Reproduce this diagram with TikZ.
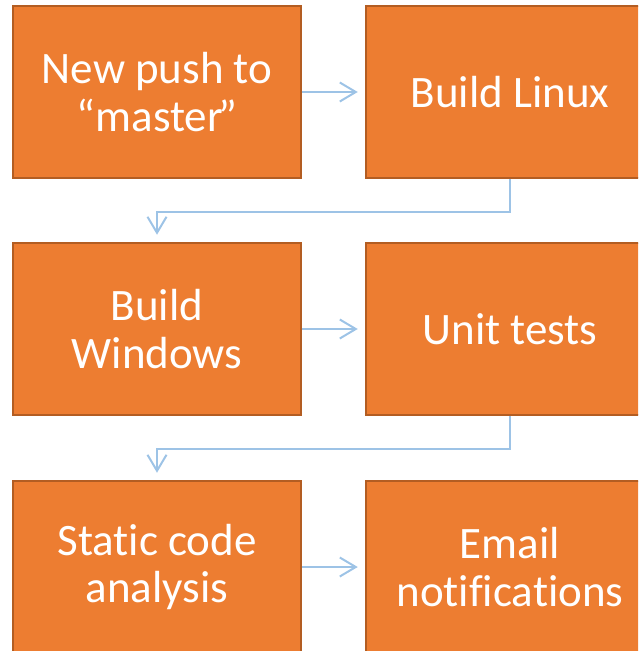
\documentclass[tikz,border=0pt]{standalone}
\usepackage{fontspec}
\setmainfont[Ligatures=NoCommon]{Carlito}
\usetikzlibrary{arrows.meta}
\definecolor{stepfill}{HTML}{ED7D31}
\definecolor{stepline}{HTML}{B35D22}
\definecolor{flowblue}{HTML}{9DC3E6}
\tikzset{
	stepbox/.style={draw=stepline, line width=0.03cm, fill=stepfill, text=white,
		minimum width=5.76cm, minimum height=3.44cm, inner sep=0pt, align=center,
		font=\fontsize{25.6}{27.3}\selectfont},
	flow/.style={draw=flowblue, line width=0.04cm,
		-{Straight Barb[length=0.32cm, width=0.38cm]}, shorten >=0.15cm}
}

\begin{document}
\begin{tikzpicture}
		%%%%% START %%%%%
		
		\useasboundingbox (0, 0) rectangle (12.76, -13.02);
		\clip (0, 0) rectangle (12.76, -13.02);
		
		\node[stepbox] (push) at (3.14, -1.84) {New push to\\“master\kern-0.1em”};
		\node[stepbox] (linux) at (10.20, -1.84) {Build Linux};
		
		\node[stepbox] (windows) at (3.14, -6.58) {Build\\Windows};
		\node[stepbox] (tests) at (10.20, -6.58) {Unit tests};
		
		\node[stepbox] (static) at (3.14, -11.34) {Static code\\analysis};
		\node[stepbox] (email) at (10.20, -11.34) {Email\\notifications};
		
		\draw[flow] (push) -- (linux);
		\draw[flow] (linux.south) -- ++(0, -0.66) -| (windows.north);
		
		\draw[flow] (windows) -- (tests);
		\draw[flow] (tests.south) -- ++(0, -0.66) -| (static.north);
		
		\draw[flow] (static) -- (email);
		
		%%%%% END %%%%%
	\end{tikzpicture}
\end{document}
